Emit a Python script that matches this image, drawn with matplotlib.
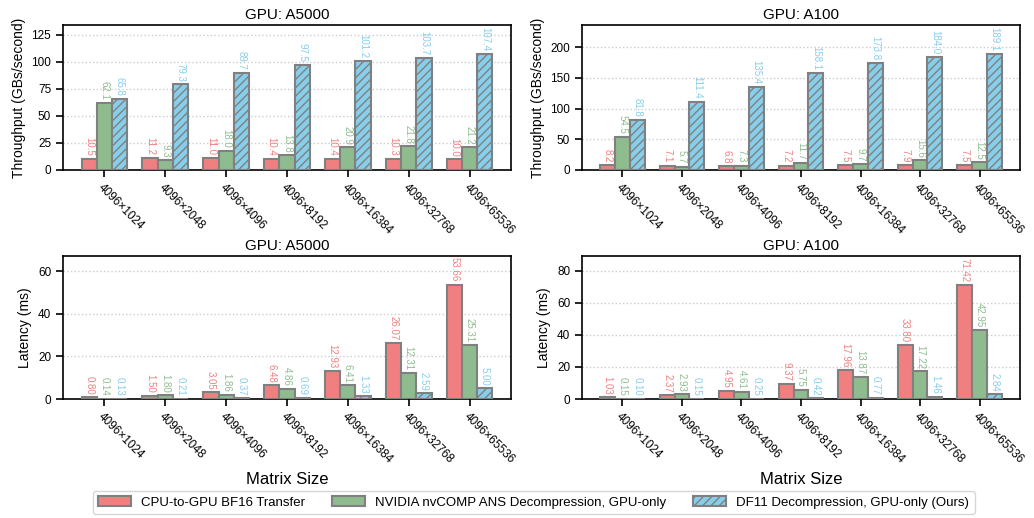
import numpy as np
import matplotlib
matplotlib.use("Agg")
import matplotlib.pyplot as plt
from matplotlib.patches import Patch
from matplotlib.ticker import MaxNLocator

plt.rcParams['font.family'] = ['Liberation Sans', 'DejaVu Sans']
plt.rcParams['hatch.linewidth'] = 1.0
plt.rcParams['hatch.color'] = '#808080'

sizes = ["4096×1024", "4096×2048", "4096×4096", "4096×8192",
         "4096×16384", "4096×32768", "4096×65536"]
series_names = ["CPU-to-GPU BF16 Transfer",
                "NVIDIA nvCOMP ANS Decompression, GPU-only",
                "DF11 Decompression, GPU-only (Ours)"]

# throughput (GB/s)
a5000_tp_cpu = [10.5, 11.2, 11.0, 10.4, 10.4, 10.3, 10.0]
a5000_tp_ans = [62.1, 9.3, 18.0, 13.8, 20.9, 21.8, 21.2]
a5000_tp_df11 = [65.8, 79.3, 89.7, 97.5, 101.2, 103.7, 107.4]
a100_tp_cpu = [8.2, 7.1, 6.8, 7.2, 7.5, 7.9, 7.5]
a100_tp_ans = [54.5, 5.7, 7.3, 11.7, 9.7, 15.6, 12.5]
a100_tp_df11 = [81.8, 111.4, 135.4, 158.1, 173.8, 184.0, 189.1]

# latency (ms)
a5000_lat_cpu = [0.80, 1.50, 3.05, 6.48, 12.93, 26.07, 53.66]
a5000_lat_ans = [0.14, 1.80, 1.86, 4.86, 6.41, 12.31, 25.31]
a5000_lat_df11 = [0.13, 0.21, 0.37, 0.69, 1.33, 2.59, 5.00]
a100_lat_cpu = [1.03, 2.37, 4.95, 9.37, 17.96, 33.80, 71.42]
a100_lat_ans = [0.15, 2.93, 4.61, 5.75, 13.87, 17.22, 42.95]
a100_lat_df11 = [0.10, 0.15, 0.25, 0.42, 0.77, 1.46, 2.84]

colors = ['#F08080', '#8FBC8F', '#87CEEB']
hatches = [None, None, '////']
edge = '#808080'

fig = plt.figure(figsize=(10.34, 5.18), dpi=100)
W, H = 1034, 518


def px_axes(x0, y0, x1, y1):
    return fig.add_axes([x0 / W, 1 - y1 / H, (x1 - x0) / W, (y1 - y0) / H])


def draw(ax, title, series, ylabel, fmt, xlabel=None):
    x = np.arange(len(sizes))
    w = 0.25
    ymax = max(max(s) for s in series)
    for i, vals in enumerate(series):
        pos = x + (i - 1) * w
        ax.bar(pos, vals, w, color=colors[i], edgecolor=edge, linewidth=1.5,
               hatch=hatches[i], zorder=3)
        for p, v in zip(pos, vals):
            ax.annotate(fmt.format(v), (p, v), xytext=(0, 2), textcoords='offset points',
                        ha='center', va='bottom', rotation=-90, fontsize=7,
                        color=colors[i])
    ax.set_ylim(0, ymax * 1.25)
    ax.yaxis.set_major_locator(MaxNLocator(nbins=6, steps=[1, 2, 2.5, 5, 10]))
    ax.set_xlim(-0.68, len(sizes) - 1 + 0.68)
    ax.set_xticks(x)
    ax.set_xticklabels(sizes, rotation=-45, ha='left', rotation_mode='anchor', fontsize=8.5)
    ax.tick_params(axis='y', labelsize=8.5, length=5, width=1.2)
    ax.tick_params(axis='x', length=5, width=1.2)
    ax.grid(axis='y', linestyle=':', color='#cccccc', linewidth=1, zorder=0)
    ax.set_axisbelow(True)
    for s in ax.spines.values():
        s.set_linewidth(1.2)
    ax.set_title(title, fontsize=11, pad=4)
    ax.set_ylabel(ylabel, fontsize=10)
    if xlabel:
        ax.set_xlabel(xlabel, fontsize=12)


ax1 = px_axes(63, 25, 511, 170)
ax2 = px_axes(582, 25, 1020, 170)
ax3 = px_axes(63, 256, 511, 399)
ax4 = px_axes(582, 256, 1020, 399)

draw(ax1, "GPU: A5000", [a5000_tp_cpu, a5000_tp_ans, a5000_tp_df11],
     "Throughput (GBs/second)", "{:.1f}")
draw(ax2, "GPU: A100", [a100_tp_cpu, a100_tp_ans, a100_tp_df11],
     "Throughput (GBs/second)", "{:.1f}")
draw(ax3, "GPU: A5000", [a5000_lat_cpu, a5000_lat_ans, a5000_lat_df11],
     "Latency (ms)", "{:.2f}", xlabel="Matrix Size")
draw(ax4, "GPU: A100", [a100_lat_cpu, a100_lat_ans, a100_lat_df11],
     "Latency (ms)", "{:.2f}", xlabel="Matrix Size")

handles = [Patch(facecolor=colors[i], edgecolor=edge, linewidth=1.5, hatch=hatches[i],
                 label=series_names[i]) for i in range(3)]
fig.legend(handles=handles, loc='lower center', bbox_to_anchor=(0.516, -0.005), ncol=3,
           fontsize=9.5, frameon=True, edgecolor='#cccccc', handlelength=2.5,
           columnspacing=2.0, borderpad=0.4)

fig.savefig("out.png", dpi=100)
